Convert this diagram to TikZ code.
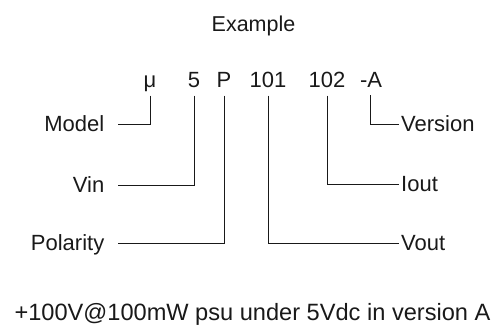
\documentclass[tikz,border=0pt]{standalone}
\usepackage{fontspec}
\setmainfont{Liberation Sans}
\begin{document}
\begin{tikzpicture}[x=1pt,y=1pt,
  txt/.style={inner sep=0pt, font=\fontsize{22}{25}\selectfont, text=black!90},
  code/.style={txt, anchor=base, text height=15pt, text depth=7.5pt},
  lab/.style={txt, text height=15pt, text depth=0pt},
  leftlab/.style={lab, anchor=base east},
  rightlab/.style={lab, anchor=base west},
  conn/.style={line width=0.9pt, draw=black!90}]
\useasboundingbox (0,0) rectangle (501,-329);
\node[txt, anchor=base, font=\fontsize{21.5}{24}\selectfont] (title) at (253.5,-31.5) {Example};
% code parts
\node[code] (mu) at (150,-88) {μ};
\node[code] (vin5) at (194,-88) {5};
\node[code] (pol) at (224,-88) {P};
\node[code] (c101) at (268,-88) {101};
\node[code] (c102) at (327,-88) {102};
\node[code] (ver) at (371,-88) {-A};
\coordinate (verfoot) at (370,-95.5);
% labels
\node[leftlab] (model) at (104.5,-131.5) {Model};
\node[leftlab] (vinl) at (104.5,-192.5) {Vin};
\node[leftlab] (polarity) at (104.5,-250.5) {Polarity};
\node[rightlab] (version) at (401,-131.5) {Version};
\node[rightlab] (iout) at (401,-191.5) {Iout};
\node[rightlab] (vout) at (401,-250.5) {Vout};
% connectors
\draw[conn] (mu.south) |- ([xshift=13.5pt]model.east);
\draw[conn] (vin5.south) |- ([xshift=13.5pt]vinl.east);
\draw[conn] (pol.south) |- ([xshift=13.5pt]polarity.east);
\draw[conn] (c101.south) |- ([xshift=-2.5pt]vout.west);
\draw[conn] (c102.south) |- ([xshift=-2.5pt]iout.west);
\draw[conn] (verfoot) |- ([xshift=-2.5pt]version.west);
\node[txt, anchor=base, font=\fontsize{23.6}{27}\selectfont] (summary) at (252.5,-320) {+100V@100mW psu under 5Vdc in version A};
\end{tikzpicture}
\end{document}
